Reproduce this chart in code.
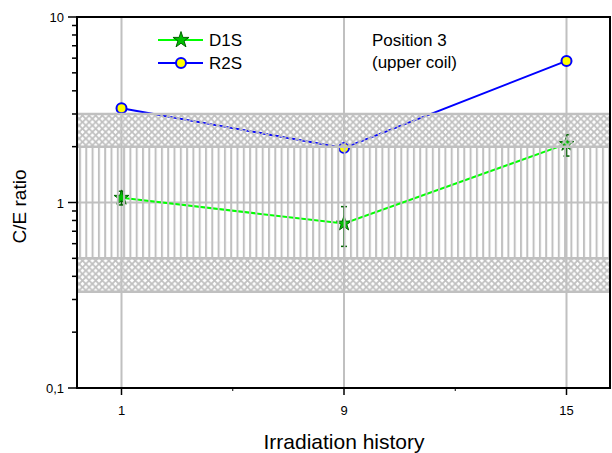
<!DOCTYPE html>
<html>
<head>
<meta charset="utf-8">
<script src="https://cdn.jsdelivr.net/npm/d3@7"></script>
<style>
  body { margin: 0; background: #fff; }
  text { font-family: "Liberation Sans", Arial, sans-serif; }
</style>
</head>
<body>
<div class="chart"></div>
<script>
// Irradiation history categories
const categories = ["1", "9", "15"];

// D1S series with error bars
const d1sValues = [1.06, 0.77, 2.07];
const d1sLow = [0.97, 0.58, 1.78];
const d1sHigh = [1.15, 0.95, 2.32];

// R2S series
const r2sValues = [3.22, 1.97, 5.8];

// uncertainty bands (C/E ratio limits)
const crossBands = [[0.33, 0.5], [2, 3]];
const lineBand = [0.5, 2];

const yTicks = [0.1, 1, 10];

const width = 612;
const height = 453;
const margin = { top: 17, right: 1, bottom: 65, left: 77 };

const grey = "#c0c0c0";

const svg = d3
  .select(".chart")
  .append("svg")
  .attr("width", width)
  .attr("height", height);

const x = d3
  .scaleLinear()
  .domain([-0.2, categories.length - 0.8])
  .range([margin.left, width - margin.right]);

const y = d3
  .scaleLog()
  .domain([0.1, 10])
  .range([height - margin.bottom, margin.top]);

// patterns
const defs = svg.append("defs");
const cross = defs
  .append("pattern")
  .attr("id", "cross")
  .attr("patternUnits", "userSpaceOnUse")
  .attr("width", 6.6)
  .attr("height", 6.6);
cross
  .append("path")
  .attr("d", "M-1,-1L7.6,7.6M7.6,-1L-1,7.6")
  .attr("stroke", grey)
  .attr("stroke-width", 1.8);

const vert = defs
  .append("pattern")
  .attr("id", "vert")
  .attr("patternUnits", "userSpaceOnUse")
  .attr("x", margin.left + 2)
  .attr("width", 6.3)
  .attr("height", 10);
vert
  .append("rect")
  .attr("x", 0)
  .attr("width", 2)
  .attr("height", 10)
  .attr("fill", grey);

const x0 = margin.left;
const x1 = width - margin.right;

// vertical gridlines
svg
  .append("g")
  .selectAll("line")
  .data(categories)
  .join("line")
  .attr("x1", (d, i) => x(i))
  .attr("x2", (d, i) => x(i))
  .attr("y1", y(10))
  .attr("y2", y(0.1))
  .attr("stroke", grey)
  .attr("stroke-width", 2);

// horizontal gridline at 1
svg
  .append("line")
  .attr("x1", x0)
  .attr("x2", x1)
  .attr("y1", y(1))
  .attr("y2", y(1))
  .attr("stroke", grey)
  .attr("stroke-width", 2);

// data lines
const line = d3
  .line()
  .x((d, i) => x(i))
  .y((d) => y(d));

svg
  .append("path")
  .datum(d1sValues)
  .attr("d", line)
  .attr("fill", "none")
  .attr("stroke", "#00ff00")
  .attr("stroke-width", 2);

svg
  .append("path")
  .datum(r2sValues)
  .attr("d", line)
  .attr("fill", "none")
  .attr("stroke", "#0000ff")
  .attr("stroke-width", 2);

// error bars D1S
const err = svg.append("g").attr("stroke", "#006400").attr("stroke-width", 1.5);
d1sValues.forEach((v, i) => {
  const cx = x(i);
  err.append("line").attr("x1", cx).attr("x2", cx).attr("y1", y(d1sLow[i])).attr("y2", y(d1sHigh[i]));
  err.append("line").attr("x1", cx - 3).attr("x2", cx + 3).attr("y1", y(d1sLow[i])).attr("y2", y(d1sLow[i]));
  err.append("line").attr("x1", cx - 3).attr("x2", cx + 3).attr("y1", y(d1sHigh[i])).attr("y2", y(d1sHigh[i]));
});

const star = d3.symbol().type(d3.symbolStar).size(70);

svg
  .append("g")
  .selectAll("path")
  .data(d1sValues)
  .join("path")
  .attr("d", star)
  .attr("transform", (d, i) => `translate(${x(i)}, ${y(d)})`)
  .attr("fill", "#00c000")
  .attr("stroke", "#006400")
  .attr("stroke-width", 1);

svg
  .append("g")
  .selectAll("circle")
  .data(r2sValues)
  .join("circle")
  .attr("cx", (d, i) => x(i))
  .attr("cy", (d) => y(d))
  .attr("r", 5)
  .attr("fill", "#ffff00")
  .attr("stroke", "#0000ff")
  .attr("stroke-width", 2);

// hatched bands on top of the data
svg
  .append("rect")
  .attr("x", x0)
  .attr("width", x1 - x0)
  .attr("y", y(lineBand[1]))
  .attr("height", y(lineBand[0]) - y(lineBand[1]))
  .attr("fill", "url(#vert)");

crossBands.forEach((b) => {
  svg
    .append("rect")
    .attr("x", x0)
    .attr("width", x1 - x0)
    .attr("y", y(b[1]))
    .attr("height", y(b[0]) - y(b[1]))
    .attr("fill", "url(#cross)");
  b.forEach((v) => {
    svg
      .append("line")
      .attr("x1", x0)
      .attr("x2", x1)
      .attr("y1", y(v))
      .attr("y2", y(v))
      .attr("stroke", grey)
      .attr("stroke-width", 2.5);
  });
});

// frame
svg
  .append("rect")
  .attr("x", x0)
  .attr("y", y(10))
  .attr("width", x1 - x0 - 1)
  .attr("height", y(0.1) - y(10))
  .attr("fill", "none")
  .attr("stroke", "#000")
  .attr("stroke-width", 2);

// y axis ticks
const minor = [];
[0.1, 1].forEach((dec) => {
  for (let k = 2; k <= 9; k++) minor.push(dec * k);
});

const yAxis = svg.append("g");
yAxis
  .selectAll(".minor")
  .data(minor)
  .join("line")
  .attr("x1", x0 - 5)
  .attr("x2", x0)
  .attr("y1", (d) => y(d))
  .attr("y2", (d) => y(d))
  .attr("stroke", "#000")
  .attr("stroke-width", 1.5);
yAxis
  .selectAll(".major")
  .data(yTicks)
  .join("line")
  .attr("x1", x0 - 9)
  .attr("x2", x0)
  .attr("y1", (d) => y(d))
  .attr("y2", (d) => y(d))
  .attr("stroke", "#000")
  .attr("stroke-width", 1.5);
yAxis
  .selectAll("text")
  .data(yTicks)
  .join("text")
  .attr("x", x0 - 13)
  .attr("y", (d) => y(d) + 5)
  .attr("text-anchor", "end")
  .attr("font-size", 13)
  .text((d) => (d < 1 ? String(d).replace(".", ",") : d));

// x axis ticks
const xAxis = svg.append("g");
const yb = y(0.1);
xAxis
  .selectAll(".major")
  .data(categories)
  .join("line")
  .attr("x1", (d, i) => x(i))
  .attr("x2", (d, i) => x(i))
  .attr("y1", yb)
  .attr("y2", yb + 7)
  .attr("stroke", "#000")
  .attr("stroke-width", 1.5);
xAxis
  .selectAll(".minor")
  .data([0.5, 1.5])
  .join("line")
  .attr("x1", (d) => x(d))
  .attr("x2", (d) => x(d))
  .attr("y1", yb)
  .attr("y2", yb + 3)
  .attr("stroke", "#000")
  .attr("stroke-width", 1);
xAxis
  .selectAll("text")
  .data(categories)
  .join("text")
  .attr("x", (d, i) => x(i))
  .attr("y", yb + 27)
  .attr("text-anchor", "middle")
  .attr("font-size", 13)
  .text((d) => d);

// axis titles
svg
  .append("text")
  .attr("x", x(1))
  .attr("y", 449)
  .attr("text-anchor", "middle")
  .attr("font-size", 21)
  .text("Irradiation history");

svg
  .append("text")
  .attr("transform", `translate(26, ${y(1) + 4}) rotate(-90)`)
  .attr("text-anchor", "middle")
  .attr("font-size", 19)
  .text("C/E ratio");

// legend
const legend = svg.append("g");
const legendItems = [
  { name: "D1S", color: "#00ff00", y: 40 },
  { name: "R2S", color: "#0000ff", y: 63 },
];
legendItems.forEach((it, i) => {
  legend
    .append("line")
    .attr("x1", 158)
    .attr("x2", 203)
    .attr("y1", it.y)
    .attr("y2", it.y)
    .attr("stroke", it.color)
    .attr("stroke-width", 2);
  if (i === 0) {
    legend
      .append("path")
      .attr("d", d3.symbol().type(d3.symbolStar).size(80))
      .attr("transform", `translate(181, ${it.y})`)
      .attr("fill", "#00c000")
      .attr("stroke", "#006400")
      .attr("stroke-width", 1);
  } else {
    legend
      .append("circle")
      .attr("cx", 181)
      .attr("cy", it.y)
      .attr("r", 5)
      .attr("fill", "#ffff00")
      .attr("stroke", "#0000ff")
      .attr("stroke-width", 2);
  }
  legend
    .append("text")
    .attr("x", 209)
    .attr("y", it.y + 6)
    .attr("font-size", 17)
    .text(it.name);
});

// annotation
svg
  .append("text")
  .attr("x", 372)
  .attr("y", 46)
  .attr("font-size", 17)
  .text("Position 3");
svg
  .append("text")
  .attr("x", 372)
  .attr("y", 68)
  .attr("font-size", 17)
  .text("(upper coil)");
</script>
</body>
</html>
